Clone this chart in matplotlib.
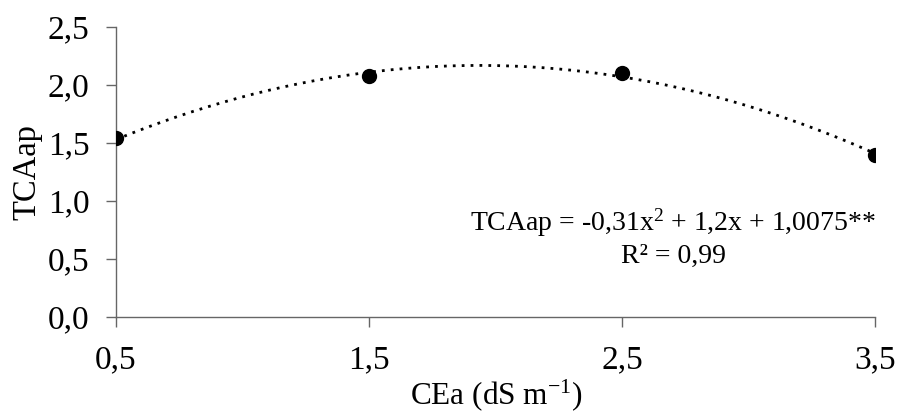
import numpy as np
import matplotlib
matplotlib.use('Agg')
import matplotlib.pyplot as plt

# dados
cea = [0.5, 1.5, 2.5, 3.5]
tcaap = [1.54, 2.08, 2.10, 1.40]
coef = [-0.31, 1.2, 1.0075]  # ajuste quadratico mostrado no grafico
xticks = [0.5, 1.5, 2.5, 3.5]
xtick_labels = ['0,5', '1,5', '2,5', '3,5']
yticks = [0.0, 0.5, 1.0, 1.5, 2.0, 2.5]
ytick_labels = ['0,0', '0,5', '1,0', '1,5', '2,0', '2,5']

plt.rcParams['font.family'] = ['Liberation Serif', 'DejaVu Serif']
plt.rcParams['mathtext.fontset'] = 'custom'
plt.rcParams['mathtext.rm'] = 'Liberation Serif'
plt.rcParams['mathtext.it'] = 'Liberation Serif:italic'

fig = plt.figure(figsize=(8.97, 4.12), dpi=100)
ax = fig.add_axes([116/897, 1 - 317/412, (875-116)/897, (317-27)/412])

xs = np.linspace(cea[0], cea[-1], 200)
ax.plot(xs, np.polyval(coef, xs), color='black', linestyle=(0, (1, 2.2)), linewidth=2)
ax.plot(cea, tcaap, 'o', color='black', markersize=10, zorder=3)

ax.set_xlim(0.5, 3.5)
ax.set_ylim(0, 2.5)
ax.set_xticks(xticks)
ax.set_xticklabels(xtick_labels)
ax.set_yticks(yticks)
ax.set_yticklabels(ytick_labels)
ax.tick_params(labelsize=24, length=7, width=1, color='#666666')
ax.tick_params(axis='y', pad=12)
ax.tick_params(axis='x', pad=13)
for s in ['top', 'right']:
    ax.spines[s].set_visible(False)
for s in ['left', 'bottom']:
    ax.spines[s].set_color('#666666')
    ax.spines[s].set_linewidth(1)

# rotulo do eixo x posicionado a mao para nao cortar na borda
fig.text(496/897, 1 - 395/412, 'CEa (dS m$^{\\mathregular{-1}}$)', ha='center', va='center', fontsize=22.5)
ax.set_ylabel('TCAap', fontsize=23.5, labelpad=4)

ax.text(673/897, 1 - 223/412, 'TCAap = -0,31x$^{2}$ + 1,2x + 1,0075**', transform=fig.transFigure,
        ha='center', va='center', fontsize=20)
ax.text(673/897, 1 - 256/412, 'R² = 0,99', transform=fig.transFigure,
        ha='center', va='center', fontsize=20)

fig.savefig('out.png', dpi=100)
